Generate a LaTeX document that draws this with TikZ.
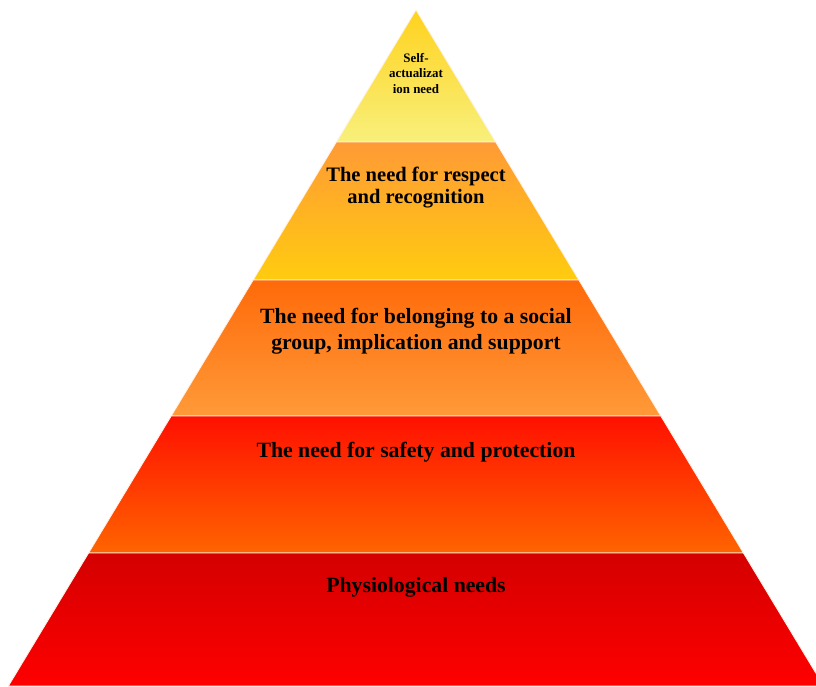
\documentclass[tikz,border=0pt]{standalone}
\usepackage{fontspec}
\setmainfont{Liberation Serif}
\usepackage{xcolor}
\definecolor{selfTop}{HTML}{FFD21E}
\definecolor{selfBot}{HTML}{F8F07C}
\definecolor{respTop}{HTML}{FF9A35}
\definecolor{respBot}{HTML}{FFCC10}
\definecolor{belTop}{HTML}{FF6A0A}
\definecolor{belBot}{HTML}{FF9A38}
\definecolor{safeTop}{HTML}{FF1000}
\definecolor{safeBot}{HTML}{FF6400}
\definecolor{physTop}{HTML}{D40000}
\definecolor{physBot}{HTML}{FF0000}

\begin{document}
\begin{tikzpicture}[
    x=0.75pt, y=-0.75pt,
    layer/.style={draw=white!90!orange, line width=0.6pt, shading=axis},
    levelText/.style={font=\bfseries\fontsize{16.3}{19.5}\selectfont, align=center, anchor=base, inner sep=0pt},
    smallText/.style={font=\bfseries\fontsize{9.7}{11.3}\selectfont, align=center, anchor=base, inner sep=0pt}
  ]

  \clip (0,0) rectangle (816,686);

  % Layers
  \draw[layer, top color=selfTop, bottom color=selfBot] (416,10) -- (495.6,142) -- (336.4,142) -- cycle;
  \draw[layer, top color=respTop, bottom color=respBot] (336.4,142) -- (495.6,142) -- (578.8,280) -- (253.2,280) -- cycle;
  \draw[layer, top color=belTop, bottom color=belBot] (253.2,280) -- (578.8,280) -- (660.8,416) -- (171.2,416) -- cycle;
  \draw[layer, top color=safeTop, bottom color=safeBot] (171.2,416) -- (660.8,416) -- (743.4,553) -- (88.6,553) -- cycle;
  \draw[layer, top color=physTop, bottom color=physBot] (88.6,553) -- (743.4,553) -- (823.6,686) -- (8.4,686) -- cycle;

  % Nodes
  \node[smallText] (selfActual) at (416,93) {Self-\\actualizat\\ion need};
  \node[levelText, font=\bfseries\fontsize{15.4}{16.5}\selectfont] (respect) at (416,203) {The need for respect\\and recognition};
  \node[levelText] (belonging) at (416,349) {The need for belonging to a social\\group, implication and support};
  \node[levelText] (safety) at (416,457) {The need for safety and protection};
  \node[levelText] (physio) at (416,592) {Physiological needs};

\end{tikzpicture}
\end{document}
